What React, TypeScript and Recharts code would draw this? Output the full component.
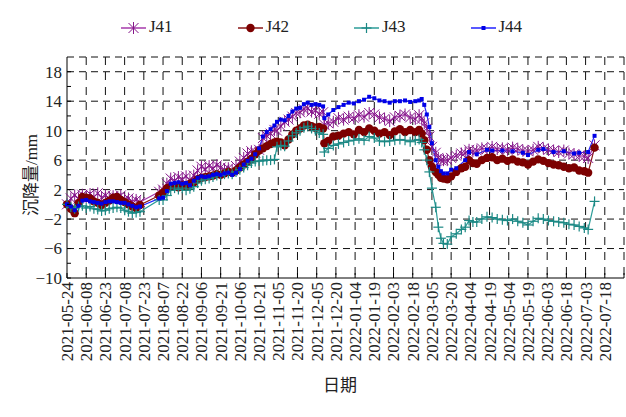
import React from 'react';
import { LineChart, Line, XAxis, YAxis, CartesianGrid, Label } from 'recharts';

// day offsets from 2021-05-24 for each survey
const DAYS = [
  0, 3, 6, 9, 12, 15, 18, 21, 24, 27, 30, 33, 36, 39, 42, 45, 48, 51, 54, 57,
  72, 75, 78, 81, 84, 87, 90, 93, 96, 99, 102, 105, 108, 111, 114, 117, 120, 123, 126, 129,
  132, 135, 138, 141, 144, 147, 150, 153, 156, 159, 162,
  164, 167, 170, 173, 176, 179, 182, 185, 188, 191, 194, 197, 200, 201,
  204, 208, 212, 216, 220, 224, 228, 232, 236, 240, 244, 248, 252, 256, 260, 264, 268, 272,
  275, 277, 279, 281, 283, 285, 288, 290, 292, 294, 297, 300,
  304, 308, 311, 314, 317, 320,
  324, 328, 332, 336, 340, 344, 348, 352, 356, 360, 364, 368, 372, 376, 380, 384, 388, 392, 396, 400, 404,
  407, 412,
];

const J41 = [
  0, 0.8, 1.2, 0.8, 1.3, 1.0, 1.4, 1.0, 1.5, 0.9, 1.2, 0.8, 1.1, 0.9, 1.2, 0.7, 0.8, 0.4, 0.6, 0.3,
  1.7, 2.0, 2.8, 3.5, 3.2, 3.7, 3.4, 3.8, 3.3, 3.9, 4.6, 5.1, 4.8, 5.2, 4.9, 5.3, 5.0, 4.7, 4.9, 4.6,
  5.2, 5.8, 6.3, 6.9, 7.2, 7.0, 7.4, 9.0, 9.3, 9.6, 10.1,
  10.0, 10.6, 11.2, 11.5, 11.9, 12.4, 12.5, 12.9, 13.0, 12.6, 12.7, 12.3, 12.5, 10.8,
  11.0, 11.2, 11.7, 11.5, 11.9, 11.7, 12.1, 11.9, 12.4, 12.2, 11.8, 11.6, 11.3, 11.8, 12.0, 12.2, 11.8, 11.6,
  12.1, 11.6, 11.0, 10.3, 9.2, 7.8, 7.0, 6.3, 6.0, 6.0, 6.0, 6.3,
  6.6, 6.9, 7.0, 7.4, 7.2, 7.3,
  7.6, 7.5, 7.8, 7.5, 7.6, 7.4, 7.7, 7.5, 7.3, 7.2, 7.4, 7.8, 7.6, 7.4, 7.3, 7.1, 7.3, 6.9, 6.8, 6.6, 6.5,
  6.3, 8.0,
];

const J42 = [
  0, -0.6, -1.2, 0.2, 1.0, 0.9, 0.8, 0.4, 0.2, -0.1, 0.2, 0.5, 0.9, 1.0, 0.6, 0.3, 0.0, -0.3, -0.5, -0.1,
  1.2, 1.6, 2.2, 2.4, 2.5, 2.3, 2.6, 2.4, 2.8, 3.0, 3.4, 3.6, 3.7, 3.8, 3.9, 4.1, 4.0, 4.2, 4.4, 4.3,
  4.6, 5.0, 5.4, 5.8, 6.2, 6.8, 7.3, 7.6, 7.9, 8.2, 8.4,
  8.5, 8.4, 8.0, 8.8, 9.5, 10.0, 10.3, 10.7, 10.8, 10.6, 10.4, 10.5, 10.3, 8.3,
  8.6, 9.2, 9.3, 9.6, 9.8, 9.5, 10.1, 9.8, 10.3, 10.0, 9.6, 9.8, 9.4, 9.9, 10.2, 9.8, 10.1, 9.8,
  10.1, 9.6, 8.7, 7.4, 6.0, 5.1, 4.4, 4.0, 3.6, 3.5, 3.4, 3.8,
  4.4, 4.9, 5.1, 6.0, 5.6, 5.5,
  6.0, 6.3, 6.4, 6.0, 6.2, 5.9, 6.1, 5.8, 5.7, 5.4, 5.8, 6.1, 5.9, 5.6, 5.4, 5.3, 5.1, 4.9, 5.0, 4.6, 4.5,
  4.3, 7.7,
];

const J43 = [
  0, -0.4, -0.6, -0.3, -0.2, -0.5, -0.3, -0.6, -0.7, -0.9, -0.8, -0.6, -0.5, -0.4, -0.5, -0.8, -1.0, -1.2, -1.1, -1.0,
  0.6, 0.6, 1.2, 1.9, 2.2, 2.0, 2.2, 1.9, 2.1, 2.4, 2.9, 3.2, 3.4, 3.5, 3.7, 3.9, 3.9, 4.1, 4.2, 4.1,
  4.4, 4.7, 5.0, 5.3, 5.6, 5.8, 5.9, 5.9, 6.0, 6.0, 6.1,
  7.8, 8.0, 7.9, 8.6, 9.3, 9.7, 10.0, 10.4, 10.6, 10.3, 10.0, 9.7, 9.5, 7.1,
  7.6, 8.0, 8.2, 8.4, 8.6, 8.7, 8.9, 8.7, 9.2, 9.0, 8.6, 8.5, 8.6, 8.7, 8.8, 8.7, 8.5, 8.7,
  8.8, 8.4, 7.4, 6.0, 4.4, 2.2, -0.4, -3.1, -4.6, -5.3, -5.4, -4.4,
  -4.0, -3.4, -3.1, -2.2, -2.4, -2.4,
  -2.0, -1.7, -1.8, -2.0, -2.1, -2.2, -2.0, -2.3, -2.5, -2.8, -2.3, -1.9, -2.0, -2.2, -2.3, -2.4, -2.5, -2.7, -2.8, -3.0, -3.2,
  -3.4, 0.4,
];

const J44 = [
  0, -0.3, -0.8, -0.2, 0.5, 0.6, 0.4, 0.3, 0.2, 0.1, 0.3, 0.4, 0.4, 0.3, 0.2, 0.2, 0.0, -0.2, -0.4, -0.3,
  0.8, 0.9, 1.8, 2.8, 2.9, 3.0, 2.8, 2.9, 2.6, 3.2, 3.6, 3.8, 3.7, 3.8, 4.0, 4.1, 4.0, 4.2, 4.3, 4.0,
  4.3, 4.8, 5.4, 5.9, 6.2, 6.8, 7.6, 9.2, 9.8, 10.2, 10.7,
  11.2, 11.5, 11.4, 12.0, 12.6, 13.0, 13.1, 13.6, 13.8, 13.5, 13.6, 13.5, 13.3, 11.7,
  12.2, 12.8, 13.2, 13.5, 13.8, 13.7, 14.0, 14.2, 14.6, 14.4, 14.1, 14.0, 13.8, 14.0, 14.0, 14.1, 13.9, 14.0,
  14.1, 14.3, 13.5, 12.2, 10.5, 8.3, 6.0, 5.1, 4.5, 4.2, 4.2, 4.7,
  4.9, null, 6.0, 7.1, null, 6.8,
  null, 7.4, 7.3, null, 7.3, null, 7.2, null, 7.0, 6.7, null, 7.4, 7.5, null, 7.1, null, 7.2, null, 6.9, 7.0, null,
  7.1, 9.3,
];

const TICK_LABELS = [
  '2021-05-24', '2021-06-08', '2021-06-23', '2021-07-08', '2021-07-23', '2021-08-07',
  '2021-08-22', '2021-09-06', '2021-09-21', '2021-10-06', '2021-10-21', '2021-11-05',
  '2021-11-20', '2021-12-05', '2021-12-20', '2022-01-04', '2022-01-19', '2022-02-03',
  '2022-02-18', '2022-03-05', '2022-03-20', '2022-04-04', '2022-04-19', '2022-05-04',
  '2022-05-19', '2022-06-03', '2022-06-18', '2022-07-03', '2022-07-18',
];

const Y_LABELS = [-10, -6, -2, 2, 6, 10, 14, 18];

const X_TICKS = Array.from({ length: 30 }, (_, i) => i * 15);
const Y_TICKS = Array.from({ length: 16 }, (_, i) => -10 + i * 2);

const data = DAYS.map((t, i) => ({ t, J41: J41[i], J42: J42[i], J43: J43[i], J44: J44[i] }));

const W = 626;
const H = 417;
const PLOT_LEFT = 67;
const PLOT_BOTTOM = 278;
const FONT = '"Liberation Serif", "Times New Roman", serif';
const CJK = '"Noto Sans CJK SC", sans-serif';
const TEXT = '#222';

const SERIES = [
  { key: 'J41', line: '#a63aab', mark: '#85168a', shape: 'star' },
  { key: 'J42', line: '#8a1616', mark: '#7c0000', shape: 'circle' },
  { key: 'J43', line: '#2c9c98', mark: '#1b8884', shape: 'plus' },
  { key: 'J44', line: '#2222ff', mark: '#0000e6', shape: 'square' },
];

const marker = (shape: string, cx: number, cy: number, color: string) => {
  if (shape === 'star') {
    const r = 5;
    return (
      <g stroke={color} strokeWidth={1}>
        <line x1={cx - r} y1={cy - r} x2={cx + r} y2={cy + r} />
        <line x1={cx - r} y1={cy + r} x2={cx + r} y2={cy - r} />
        <line x1={cx} y1={cy - r - 1} x2={cx} y2={cy + r + 1} />
      </g>
    );
  }
  if (shape === 'circle') return <circle cx={cx} cy={cy} r={4.2} fill={color} />;
  if (shape === 'plus') {
    const r = 5;
    return (
      <g stroke={color} strokeWidth={1.2}>
        <line x1={cx - r} y1={cy} x2={cx + r} y2={cy} />
        <line x1={cx} y1={cy - r} x2={cx} y2={cy + r} />
      </g>
    );
  }
  return <rect x={cx - 2} y={cy - 2} width={4} height={4} fill={color} />;
};

const makeDot = (shape: string, color: string) => (props: any) => {
  const { cx, cy, index, value } = props;
  if (cx == null || cy == null || value == null) return <g key={index} />;
  return <g key={index}>{marker(shape, cx, cy, color)}</g>;
};

const XTick = (props: any) => {
  const { x, payload } = props;
  const label = TICK_LABELS[Math.round(payload.value / 15)];
  return (
    <g>
      <line x1={x} x2={x} y1={PLOT_BOTTOM} y2={PLOT_BOTTOM - 5} stroke="#000" />
      {label && (
        <text
          transform={`translate(${x},${PLOT_BOTTOM + 4}) rotate(-90)`}
          textAnchor="end"
          dy="0.35em"
          fontSize={17}
          fontFamily={FONT}
          fill={TEXT}
        >
          {label}
        </text>
      )}
    </g>
  );
};

const YTick = (props: any) => {
  const { y, payload } = props;
  const v = payload.value;
  return (
    <g>
      {v < 20 && <line x1={PLOT_LEFT} x2={PLOT_LEFT + 4} y1={y} y2={y} stroke="#000" />}
      {Y_LABELS.includes(v) && (
        <text x={PLOT_LEFT - 5} y={y} dy="0.35em" textAnchor="end" fontSize={17} fontFamily={FONT} fill={TEXT}>
          {v < 0 ? `\u2212${Math.abs(v)}` : v}
        </text>
      )}
    </g>
  );
};

const LegendBar = () => (
  <div style={{ position: 'absolute', left: 0, top: 0, width: W, height: 50, pointerEvents: 'none' }}>
    {SERIES.map((s, i) => (
      <div
        key={s.key}
        style={{ position: 'absolute', left: 121 + i * 116.5, top: 17, display: 'flex', alignItems: 'center' }}
      >
        <svg width={25} height={20}>
          <line x1={0} x2={25} y1={11} y2={11} stroke={s.line} strokeWidth={1.5} />
          {marker(s.shape, 12.5, 11, s.mark)}
        </svg>
        <span style={{ marginLeft: 3, fontFamily: FONT, fontSize: 17, color: TEXT }}>{s.key}</span>
      </div>
    ))}
  </div>
);

export default function App() {
  return (
    <div style={{ position: 'absolute', left: 0, top: 0, width: W, height: H, background: '#fff' }}>
      <LineChart width={W} height={H} data={data} margin={{ top: 57, right: 2, bottom: 0, left: 0 }}>
        {/* horizontal and vertical grid use different dash lengths */}
        <CartesianGrid
          stroke="#111"
          strokeDasharray="7 5"
          vertical={false}
          horizontalValues={[-6, -2, 2, 6, 10, 14, 18, 20]}
        />
        <CartesianGrid
          stroke="#111"
          strokeDasharray="8 7"
          horizontal={false}
          verticalValues={X_TICKS.slice(1)}
        />
        <XAxis
          type="number"
          dataKey="t"
          domain={[0, 435]}
          ticks={X_TICKS}
          interval={0}
          height={139}
          tickLine={false}
          axisLine={{ stroke: '#000' }}
          tick={XTick}
        >
          <Label
            content={() => (
              <text x={340} y={391} textAnchor="middle" fontSize={17} fontFamily={CJK} fill={TEXT}>
                日期
              </text>
            )}
          />
        </XAxis>
        <YAxis
          type="number"
          domain={[-10, 20]}
          ticks={Y_TICKS}
          interval={0}
          width={67}
          tickLine={false}
          axisLine={{ stroke: '#000' }}
          tick={YTick}
        >
          <Label
            content={() => (
              <text
                transform="translate(31,175) rotate(-90)"
                textAnchor="middle"
                dy="0.35em"
                fontSize={17}
                fill={TEXT}
              >
                <tspan fontFamily={CJK} fill={TEXT}>沉降量</tspan>
                <tspan fontFamily={FONT} fill={TEXT}>/mm</tspan>
              </text>
            )}
          />
        </YAxis>
        {SERIES.map((s) => (
          <Line
            key={s.key}
            type="linear"
            dataKey={s.key}
            stroke={s.line}
            strokeWidth={1.2}
            dot={makeDot(s.shape, s.mark)}
            activeDot={false}
            connectNulls
            isAnimationActive={false}
          />
        ))}
      </LineChart>
      <LegendBar />
    </div>
  );
}
